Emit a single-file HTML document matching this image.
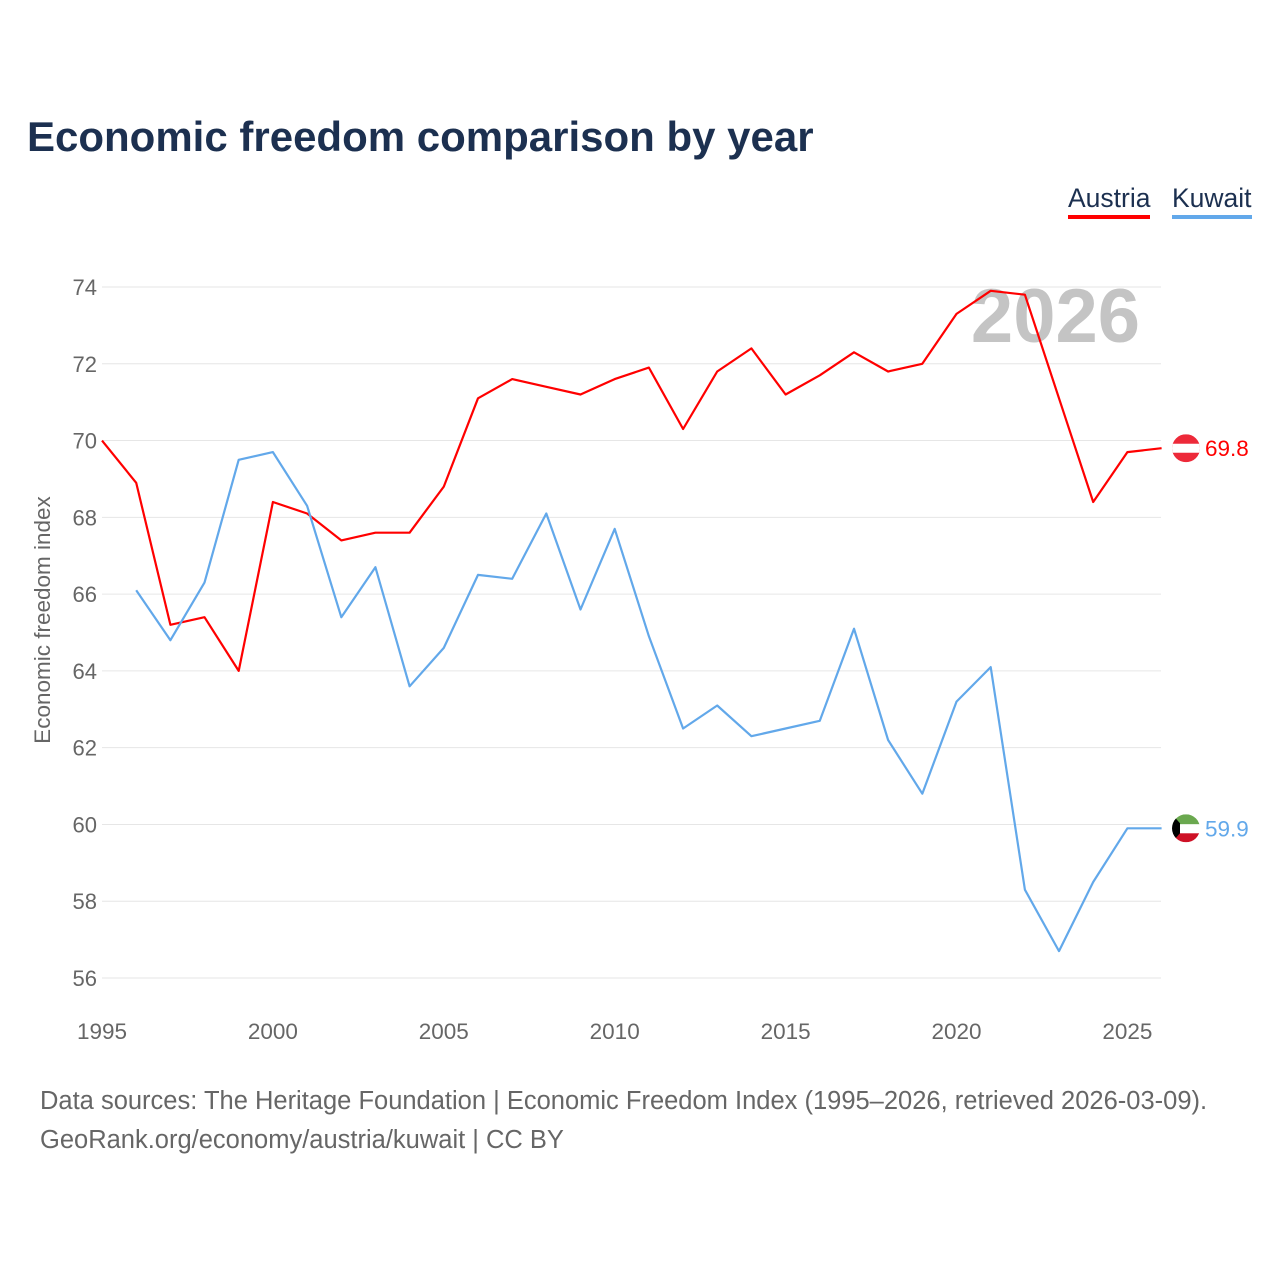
<!DOCTYPE html>
<html><head><meta charset="utf-8">
<style>
body{margin:0;background:#fff;font-family:"Liberation Sans",sans-serif;}
#wrap{position:relative;width:1280px;height:1280px;}
h1{position:absolute;left:27px;top:113px;margin:0;font-size:42px;font-weight:bold;color:#1c3050;}
.src{position:absolute;left:40px;font-size:25.5px;color:#666;}
.leg{position:absolute;top:183px;font-size:26.5px;color:#1c3050;padding-bottom:1px;}
</style></head><body>
<div id="wrap">
<h1>Economic freedom comparison by year</h1>
<div class="leg" style="left:1068px;border-bottom:4px solid #ff0000">Austria</div>
<div class="leg" style="left:1172px;border-bottom:4px solid #62a8ea">Kuwait</div>
<svg id="chart" width="1280" height="1280" style="position:absolute;left:0;top:0"></svg>
<div class="src" style="top:1087px">Data sources: The Heritage Foundation | Economic Freedom Index (1995–2026, retrieved 2026-03-09).</div>
<div class="src" style="top:1126px">GeoRank.org/economy/austria/kuwait | CC BY</div>
</div>
<script>
const years = [1995,1996,1997,1998,1999,2000,2001,2002,2003,2004,2005,2006,2007,2008,2009,2010,2011,2012,2013,2014,2015,2016,2017,2018,2019,2020,2021,2022,2023,2024,2025,2026];
const austria = [70.0,68.9,65.2,65.4,64.0,68.4,68.1,67.4,67.6,67.6,68.8,71.1,71.6,71.4,71.2,71.6,71.9,70.3,71.8,72.4,71.2,71.7,72.3,71.8,72.0,73.3,73.9,73.8,71.1,68.4,69.7,69.8];
const kuwait = [null,66.1,64.8,66.3,69.5,69.7,68.3,65.4,66.7,63.6,64.6,66.5,66.4,68.1,65.6,67.7,64.9,62.5,63.1,62.3,62.5,62.7,65.1,62.2,60.8,63.2,64.1,58.3,56.7,58.5,59.9,59.9];
const yTicks = [56,58,60,62,64,66,68,70,72,74];
const xTicks = [1995,2000,2005,2010,2015,2020,2025];

const svg=document.getElementById('chart');
const NS='http://www.w3.org/2000/svg';
const X=y=>102+(y-1995)*34.18;
const Y=v=>287+(74-v)*38.39;
function mk(t,a,parent){const e=document.createElementNS(NS,t);for(const k in a)e.setAttribute(k,a[k]);(parent||svg).appendChild(e);return e;}
yTicks.forEach(v=>{
  const g=mk('line',{x1:102,x2:1161,y1:Y(v),y2:Y(v),stroke:'#e6e6e6','stroke-width':1});
  
  
  const t=mk('text',{x:97,y:Y(v)+8,'text-anchor':'end','font-size':22,fill:'#666','font-family':'Liberation Sans, sans-serif'});
  t.textContent=v;
  
  
});
xTicks.forEach(v=>{
  const t=mk('text',{x:X(v),y:1039,'text-anchor':'middle','font-size':22.5,fill:'#666','font-family':'Liberation Sans, sans-serif'});
  t.textContent=v;
  
  
});
const yt=mk('text',{transform:'translate(50,620) rotate(-90)','text-anchor':'middle','font-size':22.5,fill:'#666','font-family':'Liberation Sans, sans-serif'});
yt.textContent='Economic freedom index';


const yr=mk('text',{x:1140,y:342,'text-anchor':'end','font-size':76,'font-weight':'bold',fill:'#c4c4c4','font-family':'Liberation Sans, sans-serif'});
yr.textContent='2026';


const defs=mk('defs',{});
function series(data,color,name){
  let d='';data.forEach((v,i)=>{if(v==null)return;d+=(d?'L':'M')+X(years[i]).toFixed(1)+','+Y(v).toFixed(1);});
  const p=mk('path',{d:d,fill:'none',stroke:color,'stroke-width':2.2,'stroke-linejoin':'round'});
  
  
  const last=data[data.length-1];
  const cy=Y(last);
  const t=mk('text',{x:1205,y:cy+8,'font-size':22.5,fill:color,'font-family':'Liberation Sans, sans-serif'});
  t.textContent=last.toFixed(1);
  
  
  const cp=mk('clipPath',{id:'clip-'+name},defs);
  mk('circle',{cx:1186,cy:cy,r:14},cp);
  const g=mk('g',{'clip-path':'url(#clip-'+name+')'});
  
  
  return [cy,g];
}
const [ay,ag]=series(austria,'#ff0000','austria');
mk('rect',{x:1172,y:ay-14,width:28,height:28,fill:'#ed2939'},ag);
mk('rect',{x:1172,y:ay-4.5,width:28,height:9,fill:'#fff'},ag);
const [ky,kg]=series(kuwait,'#62a8ea','kuwait');
mk('rect',{x:1172,y:ky-14,width:28,height:10,fill:'#6aa84f'},kg);
mk('rect',{x:1172,y:ky-4,width:28,height:9,fill:'#fff'},kg);
mk('rect',{x:1172,y:ky+5,width:28,height:9,fill:'#ce1126'},kg);
mk('path',{d:`M1172,${ky-14}L1180,${ky-5}L1180,${ky+5}L1172,${ky+14}Z`,fill:'#000'},kg);
</script>
</body></html>
